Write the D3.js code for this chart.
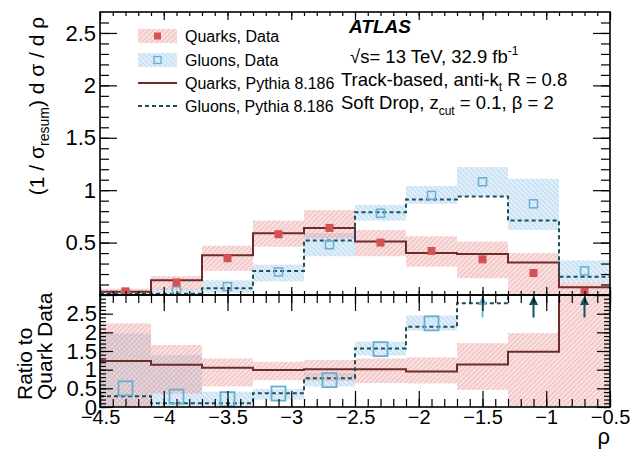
<!DOCTYPE html>
<html>
<head>
<meta charset="utf-8">
<script src="https://cdn.jsdelivr.net/npm/d3@7"></script>
<style>
  body { margin: 0; background: #fff; }
  svg { display: block; font-family: "Liberation Sans", Arial, Helvetica, sans-serif; }
</style>
</head>
<body>
<svg id="chart" width="631" height="449"></svg>
<script>
// ---- binning in rho ----
const binEdges = [-4.5, -4.1, -3.7, -3.3, -2.9, -2.5, -2.1, -1.7, -1.3, -0.9, -0.5];

// ---- upper panel: normalised cross sections ----
const quarkData    = [0.035, 0.12, 0.35, 0.58, 0.64, 0.50, 0.42, 0.34, 0.21, 0.03];
const quarkDataLo  = [0.015, 0.05, 0.23, 0.46, 0.54, 0.37, 0.27, 0.16, 0.00, 0.00];
const quarkDataHi  = [0.060, 0.18, 0.47, 0.71, 0.81, 0.62, 0.56, 0.51, 0.40, 0.12];
const gluonData    = [0.016, 0.04, 0.08, 0.22, 0.48, 0.78, 0.95, 1.08, 0.87, 0.23];
const gluonDataLo  = [0.000, 0.00, 0.02, 0.13, 0.37, 0.71, 0.87, 0.94, 0.62, 0.12];
const gluonDataHi  = [0.030, 0.06, 0.14, 0.29, 0.59, 0.86, 1.04, 1.22, 1.11, 0.33];
const quarkPythia  = [0.03, 0.14, 0.38, 0.59, 0.64, 0.51, 0.40, 0.39, 0.31, 0.073];
const gluonPythia  = [0.012, 0.012, 0.064, 0.23, 0.52, 0.79, 0.91, 0.94, 0.71, 0.175];

// ---- lower panel: ratio to quark data ----
const ratioQuarkBandLo  = [0.00, 0.36, 0.55, 0.72, 0.70, 0.64, 0.63, 0.46, 0.00, 0.00];
const ratioQuarkBandHi  = [2.24, 1.66, 1.30, 1.21, 1.26, 1.30, 1.33, 1.71, 1.98, 3.00];
const ratioGluonBandLo  = [0.00, 0.00, 0.00, 0.20, 0.55, 1.38, 2.05, null, null, null];
const ratioGluonBandHi  = [1.97, 1.39, 0.41, 0.48, 0.92, 1.75, 2.45, null, null, null];
const ratioQuarkPythia  = [1.23, 1.13, 1.05, 0.99, 1.01, 1.01, 0.95, 1.14, 1.48, 3.60];
const ratioGluonPythia  = [0.29, 0.10, 0.10, 0.37, 0.77, 1.57, 2.15, 2.78, 3.40, 5.80];
const ratioGluonData    = [0.50, 0.28, 0.21, 0.36, 0.72, 1.55, 2.24, 3.20, 4.10, 7.70];

// ---- tick values ----
const topYMajor   = [0, 0.5, 1, 1.5, 2, 2.5];
const topYLabels  = ["", "0.5", "1", "1.5", "2", "2.5"];
const ratioYMajor = [0, 0.5, 1, 1.5, 2, 2.5];
const ratioYLabels = ["0", "0.5", "1", "1.5", "2", "2.5"];
const xMajor      = [-4.5, -4, -3.5, -3, -2.5, -2, -1.5, -1, -0.5];
const xLabels     = ["\u22124.5", "\u22124", "\u22123.5", "\u22123", "\u22122.5", "\u22122", "\u22121.5", "\u22121", "\u22120.5"];

// ---- legend entries ----
const legendEntries = ["Quarks, Data", "Gluons, Data", "Quarks, Pythia 8.186", "Gluons, Pythia 8.186"];

// ---- colours ----
const cRed = "#d65252";
const cRedLine = "#6e2b2b";
const cBlue = "#67aed3";
const cTeal = "#1d4f5c";

const svg = d3.select("#chart");
const L = 100, R = 610, T = 12, MID = 295, B = 407;

const x  = d3.scaleLinear().domain([-4.5, -0.5]).range([L, R]);
const yT = d3.scaleLinear().domain([0, 2.7]).range([MID, T]);
const yR = d3.scaleLinear().domain([0, 3]).range([B, MID]);

const nBins = binEdges.length - 1;
const bins = d3.range(nBins);
const centre = i => (binEdges[i] + binEdges[i + 1]) / 2;

// hatch patterns for the uncertainty bands
const defs = svg.append("defs");
function hatch(id, bg, line, angle) {
  const p = defs.append("pattern").attr("id", id).attr("patternUnits", "userSpaceOnUse")
    .attr("width", 3.5).attr("height", 3.5).attr("patternTransform", `rotate(${angle})`);
  p.append("rect").attr("width", 3.5).attr("height", 3.5).attr("fill", bg);
  p.append("line").attr("x1", 0).attr("y1", 0).attr("x2", 0).attr("y2", 3.5)
    .attr("stroke", line).attr("stroke-width", 1.2);
}
hatch("hRed", "rgba(236,165,165,0.34)", "rgba(226,115,115,0.55)", 45);
hatch("hBlue", "rgba(155,202,232,0.32)", "rgba(115,180,220,0.52)", -45);

defs.append("clipPath").attr("id", "clipTop").append("rect")
  .attr("x", L).attr("y", T).attr("width", R - L).attr("height", MID - T);
defs.append("clipPath").attr("id", "clipRatio").append("rect")
  .attr("x", L).attr("y", MID).attr("width", R - L).attr("height", B - MID);

function drawBands(g, y, lo, hi, fill) {
  g.selectAll(null).data(bins.filter(i => lo[i] != null)).join("rect")
    .attr("x", i => x(binEdges[i]))
    .attr("width", i => x(binEdges[i + 1]) - x(binEdges[i]))
    .attr("y", i => y(hi[i]))
    .attr("height", i => y(lo[i]) - y(hi[i]))
    .attr("fill", fill);
}
function stepLine(g, y, vals, color, dash) {
  const pts = bins.map(i => [binEdges[i], vals[i]]);
  pts.push([binEdges[nBins], vals[nBins - 1]]);
  g.append("path").datum(pts)
    .attr("d", d3.line().x(d => x(d[0])).y(d => y(d[1])).curve(d3.curveStepAfter))
    .attr("fill", "none").attr("stroke", color).attr("stroke-width", 2)
    .attr("stroke-dasharray", dash || null);
}

// ---------- upper panel ----------
const gTop = svg.append("g").attr("clip-path", "url(#clipTop)");
drawBands(gTop, yT, gluonDataLo, gluonDataHi, "url(#hBlue)");
drawBands(gTop, yT, quarkDataLo, quarkDataHi, "url(#hRed)");
stepLine(gTop, yT, quarkPythia, cRedLine);
stepLine(gTop, yT, gluonPythia, cTeal, "4,3");
gTop.selectAll(null).data(bins).join("rect")
  .attr("x", i => x(centre(i)) - 4).attr("y", i => yT(gluonData[i]) - 4)
  .attr("width", 8).attr("height", 8)
  .attr("fill", "none").attr("stroke", cBlue).attr("stroke-width", 1.5);
gTop.selectAll(null).data(bins).join("rect")
  .attr("x", i => x(centre(i)) - 4).attr("y", i => yT(quarkData[i]) - 4)
  .attr("width", 8).attr("height", 8).attr("fill", cRed);

// ---------- ratio panel ----------
const gRat = svg.append("g").attr("clip-path", "url(#clipRatio)");
drawBands(gRat, yR, ratioGluonBandLo, ratioGluonBandHi, "url(#hBlue)");
drawBands(gRat, yR, ratioQuarkBandLo, ratioQuarkBandHi, "url(#hRed)");
stepLine(gRat, yR, ratioQuarkPythia, cRedLine);
stepLine(gRat, yR, ratioGluonPythia, cTeal, "4,3");
gRat.selectAll(null).data(bins.filter(i => ratioGluonData[i] <= 3)).join("rect")
  .attr("x", i => x(centre(i)) - 7).attr("y", i => yR(ratioGluonData[i]) - 7)
  .attr("width", 14).attr("height", 14)
  .attr("fill", "none").attr("stroke", cBlue).attr("stroke-width", 1.8);

// out-of-range arrows: data (light) first, simulation (dark) drawn over it
function arrows(vals, color) {
  const g = svg.append("g");
  const sel = bins.filter(i => vals[i] > 3);
  g.selectAll(null).data(sel).join("line")
    .attr("x1", i => x(centre(i))).attr("x2", i => x(centre(i)))
    .attr("y1", yR(2.4)).attr("y2", yR(3) + 6)
    .attr("stroke", color).attr("stroke-width", 1.8);
  g.selectAll(null).data(sel).join("path")
    .attr("d", i => {
      const cx = x(centre(i)), ty = yR(3) + 1;
      return `M${cx},${ty} L${cx - 4.5},${ty + 9} L${cx + 4.5},${ty + 9} Z`;
    })
    .attr("fill", color);
}
arrows(ratioGluonData, cBlue);
arrows(ratioGluonPythia, cTeal);

// ---------- axes (ticks inside) ----------
function noDomain(g) { g.select(".domain").remove(); g.selectAll("line").attr("stroke", "#000").attr("stroke-width", 1.2); }
const fineX = d3.range(-45, -4).map(v => v / 10);
const fineYT = d3.range(0, 27).map(v => v / 10);
const fineYR = d3.range(0, 30).map(v => v / 10);

// upper panel
svg.append("g").attr("transform", `translate(0,${MID})`)
  .call(d3.axisBottom(x).tickValues(fineX).tickSize(-4).tickFormat("")).call(noDomain);
svg.append("g").attr("transform", `translate(0,${MID})`)
  .call(d3.axisBottom(x).tickValues(xMajor).tickSize(-8).tickFormat("")).call(noDomain);
svg.append("g").attr("transform", `translate(0,${T})`)
  .call(d3.axisTop(x).tickValues(fineX).tickSize(-4).tickFormat("")).call(noDomain);
svg.append("g").attr("transform", `translate(0,${T})`)
  .call(d3.axisTop(x).tickValues(xMajor).tickSize(-8).tickFormat("")).call(noDomain);
svg.append("g").attr("transform", `translate(${L},0)`)
  .call(d3.axisLeft(yT).tickValues(fineYT).tickSize(-9).tickFormat("")).call(noDomain);
svg.append("g").attr("transform", `translate(${L},0)`)
  .call(d3.axisLeft(yT).tickValues(topYMajor).tickSize(-17).tickPadding(4)
    .tickFormat((d, i) => topYLabels[i]))
  .call(noDomain)
  .call(g => g.selectAll("text").attr("font-size", 22).attr("fill", "#000")
    .attr("font-family", "Liberation Sans, Arial, sans-serif"));
svg.append("g").attr("transform", `translate(${R},0)`)
  .call(d3.axisRight(yT).tickValues(fineYT).tickSize(-9).tickFormat("")).call(noDomain);
svg.append("g").attr("transform", `translate(${R},0)`)
  .call(d3.axisRight(yT).tickValues(topYMajor).tickSize(-17).tickFormat("")).call(noDomain);

// ratio panel
svg.append("g").attr("transform", `translate(0,${MID})`)
  .call(d3.axisTop(x).tickValues(fineX).tickSize(-8).tickFormat("")).call(noDomain);
svg.append("g").attr("transform", `translate(0,${MID})`)
  .call(d3.axisTop(x).tickValues(xMajor).tickSize(-16).tickFormat("")).call(noDomain);
svg.append("g").attr("transform", `translate(0,${B})`)
  .call(d3.axisBottom(x).tickValues(fineX).tickSize(-8).tickFormat("")).call(noDomain);
svg.append("g").attr("transform", `translate(0,${B})`)
  .call(d3.axisBottom(x).tickValues(xMajor).tickSize(-16).tickPadding(3)
    .tickFormat((d, i) => xLabels[i]))
  .call(noDomain)
  .call(g => g.selectAll("text").attr("font-size", 20).attr("fill", "#000")
    .attr("font-family", "Liberation Sans, Arial, sans-serif"));
svg.append("g").attr("transform", `translate(${L},0)`)
  .call(d3.axisLeft(yR).tickValues(fineYR).tickSize(-6).tickFormat("")).call(noDomain);
svg.append("g").attr("transform", `translate(${L},0)`)
  .call(d3.axisLeft(yR).tickValues(ratioYMajor).tickSize(-13).tickPadding(3)
    .tickFormat((d, i) => ratioYLabels[i]))
  .call(noDomain)
  .call(g => g.selectAll("text").attr("font-size", 22).attr("fill", "#000")
    .attr("font-family", "Liberation Sans, Arial, sans-serif"));
svg.append("g").attr("transform", `translate(${R},0)`)
  .call(d3.axisRight(yR).tickValues(fineYR).tickSize(-6).tickFormat("")).call(noDomain);
svg.append("g").attr("transform", `translate(${R},0)`)
  .call(d3.axisRight(yR).tickValues(ratioYMajor).tickSize(-13).tickFormat("")).call(noDomain);

// frames
svg.append("rect").attr("x", L).attr("y", T).attr("width", R - L).attr("height", MID - T)
  .attr("fill", "none").attr("stroke", "#000").attr("stroke-width", 1.6);
svg.append("rect").attr("x", L).attr("y", MID).attr("width", R - L).attr("height", B - MID)
  .attr("fill", "none").attr("stroke", "#000").attr("stroke-width", 1.6);

// ---------- axis titles ----------
const yTitle = svg.append("text")
  .attr("transform", "translate(44,106) rotate(-90)")
  .attr("text-anchor", "middle").attr("font-size", 21).attr("fill", "#000");
yTitle.append("tspan").text("(1 / \u03c3");
yTitle.append("tspan").attr("font-size", 14).attr("dy", 5).text("resum");
yTitle.append("tspan").attr("dy", -5).text(") d \u03c3 / d \u03c1");

const rTitle = svg.append("g").attr("transform", "translate(0,400) rotate(-90)");
rTitle.append("text").attr("x", 0).attr("y", 32).attr("font-size", 21).text("Ratio to");
rTitle.append("text").attr("x", 0).attr("y", 52).attr("font-size", 21).text("Quark Data");

svg.append("text").attr("x", R).attr("y", 444).attr("text-anchor", "end")
  .attr("font-size", 22).text("\u03c1");

// ---------- legend ----------
const leg = svg.append("g");
const rowY = [36, 60, 83, 106];
legendEntries.forEach((label, i) => {
  const cy = rowY[i];
  if (i === 0 || i === 1) {
    leg.append("rect").attr("x", 138).attr("y", cy - 7).attr("width", 39).attr("height", 14)
      .attr("fill", i === 0 ? "url(#hRed)" : "url(#hBlue)");
    if (i === 0) {
      leg.append("rect").attr("x", 154).attr("y", cy - 3.5).attr("width", 7).attr("height", 7).attr("fill", cRed);
    } else {
      leg.append("rect").attr("x", 154).attr("y", cy - 3.5).attr("width", 7).attr("height", 7)
        .attr("fill", "none").attr("stroke", cBlue).attr("stroke-width", 1.3);
    }
  } else {
    leg.append("line").attr("x1", 138).attr("x2", 177).attr("y1", cy).attr("y2", cy)
      .attr("stroke", i === 2 ? cRedLine : cTeal).attr("stroke-width", 2)
      .attr("stroke-dasharray", i === 3 ? "4,3" : null);
  }
  leg.append("text").attr("x", 185).attr("y", cy + 6).attr("font-size", 16).attr("fill", "#000").text(label);
});

// ---------- annotation ----------
svg.append("text").attr("x", 349).attr("y", 33).attr("font-size", 19)
  .attr("font-weight", "bold").attr("font-style", "italic").text("ATLAS");
const t1 = svg.append("text").attr("x", 350).attr("y", 63).attr("font-size", 18.5);
t1.append("tspan").text("\u221as= 13 TeV, 32.9 fb");
t1.append("tspan").attr("font-size", 12).attr("dy", -8).text("-1");
const t2 = svg.append("text").attr("x", 341).attr("y", 86).attr("font-size", 18.5);
t2.append("tspan").text("Track-based, anti-k");
t2.append("tspan").attr("font-size", 12).attr("dy", 5).text("t");
t2.append("tspan").attr("dy", -5).text(" R = 0.8");
const t3 = svg.append("text").attr("x", 341).attr("y", 109).attr("font-size", 18.5);
t3.append("tspan").text("Soft Drop, z");
t3.append("tspan").attr("font-size", 12).attr("dy", 6).text("cut");
t3.append("tspan").attr("dy", -6).text(" = 0.1, \u03b2 = 2");
</script>
</body>
</html>
